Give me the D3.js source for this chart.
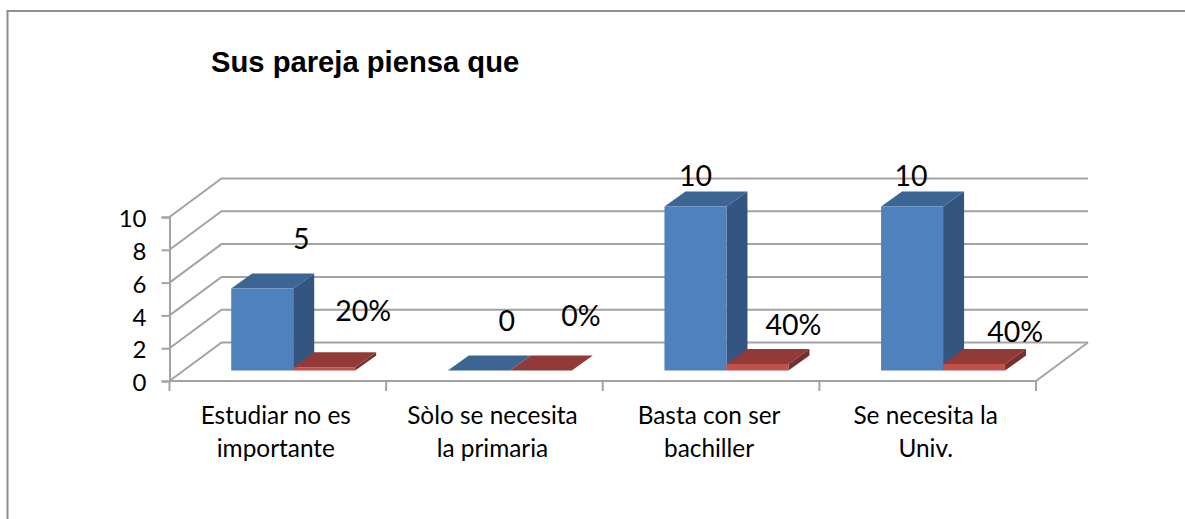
<!DOCTYPE html>
<html><head><meta charset="utf-8">
<script src="https://cdn.jsdelivr.net/npm/d3@7"></script>
<style>html,body{margin:0;padding:0;background:#fff}svg{display:block}</style>
</head><body><div id="c"></div>
<script>
const categories = ["Estudiar no es importante","Sòlo se necesita la primaria","Basta con ser bachiller","Se necesita la Univ."];
const categoryLines = [["Estudiar no es","importante"],["Sòlo se necesita","la primaria"],["Basta con ser","bachiller"],["Se necesita la","Univ."]];
const frecuencia = [5,0,10,10];
const porcentaje = [0.2,0,0.4,0.4];
const yTicks = [0,2,4,6,8,10];
const title = "Sus pareja piensa que";
// hand-placed label offsets of the original, relative to each bar's top centre
const freqLabelOffset = [[39,-41],[28,-41],[0,-22],[-1,-22]];
const pctLabelOffset = [[39,-47],[40,-46],[36,-30],[41,-23]];

const W=1185,H=519;
const svg=d3.select("#c").append("svg").attr("width",W).attr("height",H);
const grid="#a3a3a3", sans="Lato, Carlito, sans-serif";
svg.append("path").attr("d",`M7.5,${H} V11 H${W}`).attr("fill","none").attr("stroke","#8e8e8e").attr("stroke-width",2);
svg.append("text").attr("x",211).attr("y",72).attr("font-family","'Liberation Sans'").attr("font-weight","bold").attr("font-size",29.2).attr("fill","#000").text(title);

const x=d3.scaleBand().domain(categories).range([169.5,1036]);
const y=d3.scaleLinear().domain([0,10]).range([381,217]);
const floorBack={dx:52,dy:-38.5};
const barPlane={dx:15.4,dy:-10.5};
const depth={dx:21,dy:-15};
const inner=d3.scaleBand().domain(["f","p"]).range([0,124]);
const barX=c=>x(c)+(x.bandwidth()-124)/2+barPlane.dx;

const g=svg.append("g").attr("fill","none").attr("stroke",grid).attr("stroke-width",2);
g.selectAll("path").data(yTicks).join("path")
 .attr("d",t=>d3.line()([[169.5,y(t)],[169.5+floorBack.dx,y(t)+floorBack.dy],[1036+floorBack.dx,y(t)+floorBack.dy]]));
g.append("path").attr("d",d3.line()([[1036,y(0)],[1036+floorBack.dx,y(0)+floorBack.dy]]));

const ay=svg.append("g").attr("transform","translate(169.5,0)").call(d3.axisLeft(y).tickValues(yTicks).tickSize(8).tickPadding(15));
ay.select(".domain").attr("stroke",grid).attr("stroke-width",2);
ay.selectAll("line").attr("stroke",grid).attr("stroke-width",2);
ay.selectAll("text").attr("font-family",sans).attr("font-size",24).attr("fill","#000").attr("dy","0.4em");

const ax=svg.append("g").attr("transform",`translate(0,${y(0)})`).call(d3.axisBottom(x).tickValues([]).tickSize(0));
ax.select(".domain").attr("stroke",grid).attr("stroke-width",2).attr("d",`M169.5,0 H1036`);
svg.append("g").selectAll("line").data(d3.range(5)).join("line")
 .attr("x1",i=>169.5+i*x.step()).attr("x2",i=>169.5+i*x.step()).attr("y1",y(0)).attr("y2",y(0)+10)
 .attr("stroke",grid).attr("stroke-width",2);
const cl=svg.append("g").selectAll("text").data(categories).join("text")
 .attr("font-family",sans).attr("font-size",24.4).attr("fill","#000").attr("text-anchor","middle");
cl.selectAll("tspan").data((c,i)=>categoryLines[i].map(l=>({c,l}))).join("tspan")
 .attr("x",d=>x(d.c)+x.bandwidth()/2-2).attr("y",(d,i)=>424+i*33).text(d=>d.l);

function bar(c,key,v,cols){
 const bw=inner.bandwidth(), x0=barX(c)+inner(key), x1=x0+bw;
 const yb=y(0)+barPlane.dy, yt=yb-(y(0)-y(v));
 const G=svg.append("g").attr("class","bar");
 G.append("path").attr("d",d3.line()([[x1,yt],[x1+depth.dx,yt+depth.dy],[x1+depth.dx,yb+depth.dy],[x1,yb]])).attr("fill",cols[2]);
 G.append("path").attr("d",d3.line()([[x0,yt],[x0+depth.dx,yt+depth.dy],[x1+depth.dx,yt+depth.dy],[x1,yt]])).attr("fill",cols[1]);
 G.append("rect").attr("x",x0).attr("y",yt).attr("width",bw).attr("height",yb-yt).attr("fill",cols[0]);
 return {cx:(x0+x1)/2,yt};
}
const blue=["#4f81bd","#3d6594","#335580"], red=["#c0504d","#923a38","#74302e"];
const labels=[];
categories.forEach((c,i)=>{
 const a=bar(c,"f",frecuencia[i],blue);
 labels.push({x:a.cx+freqLabelOffset[i][0],y:a.yt+freqLabelOffset[i][1],t:String(frecuencia[i])});
});
categories.forEach((c,i)=>{
 const b=bar(c,"p",porcentaje[i],red);
 labels.push({x:b.cx+pctLabelOffset[i][0],y:b.yt+pctLabelOffset[i][1],t:d3.format(".0%")(porcentaje[i])});
});
svg.append("g").selectAll("text").data(labels).join("text")
 .attr("x",d=>d.x).attr("y",d=>d.y+1).attr("text-anchor","middle")
 .attr("font-family",sans).attr("font-size",28.5).attr("fill","#000").text(d=>d.t);
</script></body></html>
